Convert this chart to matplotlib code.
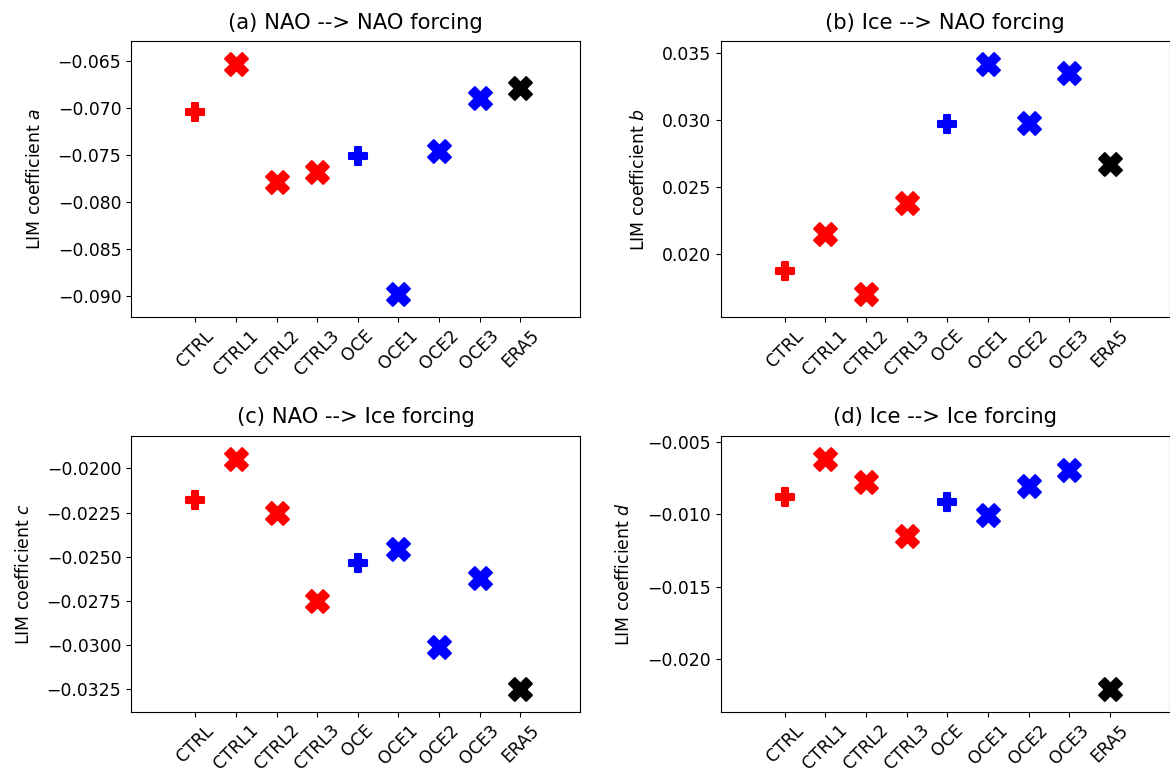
import matplotlib

matplotlib.use("Agg")
import matplotlib.pyplot as plt
from matplotlib.ticker import MultipleLocator

runs = ["CTRL", "CTRL1", "CTRL2", "CTRL3", "OCE", "OCE1", "OCE2", "OCE3", "ERA5"]
colours = ["red", "red", "red", "red", "blue", "blue", "blue", "blue", "black"]
markers = ["P", "X", "X", "X", "P", "X", "X", "X", "X"]

coef_a = [-0.0704, -0.0653, -0.0779, -0.0768, -0.0751, -0.0898, -0.0746, -0.0689, -0.0678]
coef_b = [0.0187, 0.0215, 0.0170, 0.0238, 0.0297, 0.0342, 0.0298, 0.0335, 0.0267]
coef_c = [-0.0218, -0.01945, -0.0225, -0.0275, -0.02537, -0.02458, -0.0301, -0.02618, -0.03246]
coef_d = [-0.0088, -0.00615, -0.00777, -0.0115, -0.00915, -0.01002, -0.00804, -0.00691, -0.02205]

# (values, title, ylabel, y tick step)
panels = [
    (coef_a, "(a) NAO --> NAO forcing", "LIM coefficient $a$", 0.005),
    (coef_b, "(b) Ice --> NAO forcing", "LIM coefficient $b$", 0.005),
    (coef_c, "(c) NAO --> Ice forcing", "LIM coefficient $c$", 0.0025),
    (coef_d, "(d) Ice --> Ice forcing", "LIM coefficient $d$", 0.005),
]

plt.rcParams["font.size"] = 12.4
fig, axes = plt.subplots(2, 2, figsize=(11.7, 7.76), dpi=100)
for ax, (vals, title, ylab, step) in zip(axes.flat, panels):
    for i, (v, c, m) in enumerate(zip(vals, colours, markers)):
        size = 150 if m == "P" else 270
        ax.scatter(i, v, color=c, marker=m, s=size, linewidths=1.5, edgecolors=c)
    ax.margins(y=0.1)
    ax.set_xlim(-1.58, 9.47)
    ax.set_xticks(range(len(runs)))
    ax.set_xticklabels(runs, rotation=45)
    ax.yaxis.set_major_locator(MultipleLocator(step))
    ax.set_title(title, fontsize=15.2, pad=9)
    ax.set_ylabel(ylab, labelpad=10)

fig.subplots_adjust(left=0.112, right=0.9997, top=0.947, bottom=0.083, wspace=0.313, hspace=0.43)
fig.savefig("out.png", dpi=100)
